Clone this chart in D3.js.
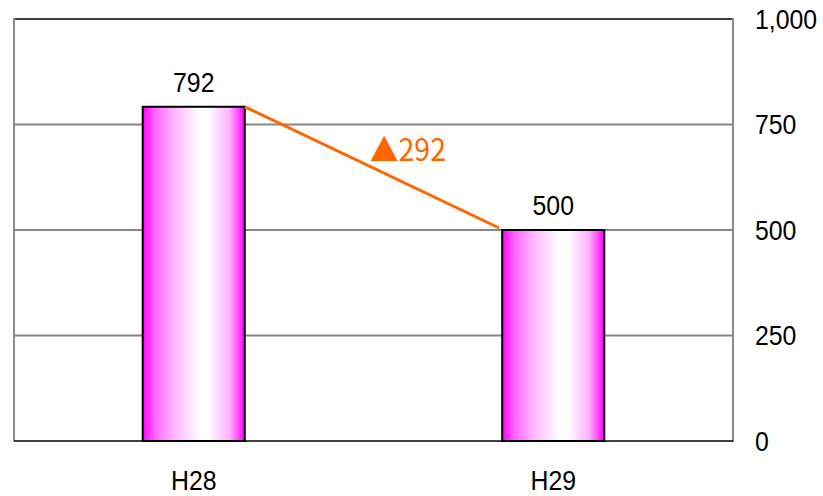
<!DOCTYPE html>
<html><head><meta charset="utf-8">
<script src="https://cdn.jsdelivr.net/npm/d3@7"></script>
<style>body{margin:0;background:#fff}svg{display:block}</style>
</head><body>
<svg id="c" width="823" height="496"></svg>
<script>
const categories = ["H28", "H29"];
const values = [792, 500];
const yTicks = [0, 250, 500, 750, 1000];
const diffLabel = "▲292";

const W = 823, H = 496;
const m = {left: 14, right: 90, top: 19, bottom: 55};
const svg = d3.select("#c");
const x = d3.scaleBand().domain(categories).range([m.left, W - m.right]).paddingInner(0.716).paddingOuter(0.358);
const y = d3.scaleLinear().domain([0, 1000]).range([H - m.bottom, m.top]);
const font = "'Liberation Sans', Arial, sans-serif";
const fontJ = "'Noto Sans CJK JP', 'Noto Sans', sans-serif";

const defs = svg.append("defs");
const g = defs.append("linearGradient").attr("id", "bg").attr("x1", "0").attr("x2", "1").attr("y1", "0").attr("y2", "0");
[[0, "#ff00ff"], [0.12, "#ff66ff"], [0.32, "#ffbbff"], [0.56, "#ffffff"], [0.64, "#ffffff"], [0.85, "#ffb0ff"], [1, "#ff00ff"]]
  .forEach(([o, c]) => g.append("stop").attr("offset", o).attr("stop-color", c));

function sx(cx, s) { return `translate(${cx * (1 - s)},0) scale(${s},1)`; }
const S = 0.92;

// grid
svg.append("g").selectAll("line").data(yTicks.filter(d => d > 0)).join("line")
  .attr("x1", m.left).attr("x2", W - m.right)
  .attr("y1", d => y(d)).attr("y2", d => y(d))
  .attr("stroke", d => d === 1000 ? "#404040" : "#868686").attr("stroke-width", 2);
svg.append("line").attr("x1", m.left).attr("x2", m.left).attr("y1", y(1000) - 1).attr("y2", y(0))
  .attr("stroke", "#8c8c8c").attr("stroke-width", 2);
svg.append("line").attr("x1", W - m.right).attr("x2", W - m.right).attr("y1", y(1000) - 1).attr("y2", y(0) + 1)
  .attr("stroke", "#8c8c8c").attr("stroke-width", 2);
svg.append("line").attr("x1", m.left).attr("x2", W - m.right).attr("y1", y(0)).attr("y2", y(0))
  .attr("stroke", "#000").attr("stroke-width", 1.5);

// tick labels
const tx = W - m.right + 22;
svg.append("g").selectAll("text").data(yTicks).join("text")
  .attr("x", tx).attr("y", d => y(d) + 10)
  .attr("font-family", font).attr("font-size", 27).attr("fill", "#000")
  .attr("transform", sx(tx, S))
  .text(d => d3.format(",")(d));

// bars
svg.append("g").selectAll("rect").data(values).join("rect")
  .attr("x", (d, i) => x(categories[i])).attr("width", x.bandwidth())
  .attr("y", d => y(d)).attr("height", d => y(0) - y(d))
  .attr("fill", "url(#bg)").attr("stroke", "#000").attr("stroke-width", 2);

// value labels
svg.append("g").selectAll("text").data(values).join("text")
  .attr("x", (d, i) => x(categories[i]) + x.bandwidth() / 2).attr("y", d => y(d) - 15)
  .attr("text-anchor", "middle").attr("font-family", font).attr("font-size", 27)
  .attr("transform", (d, i) => sx(x(categories[i]) + x.bandwidth() / 2, S))
  .text(d => d);

// category labels
svg.append("g").selectAll("text").data(categories).join("text")
  .attr("x", d => x(d) + x.bandwidth() / 2).attr("y", H - 6)
  .attr("text-anchor", "middle").attr("font-family", font).attr("font-size", 27)
  .attr("transform", d => sx(x(d) + x.bandwidth() / 2, S))
  .text(d => d);

// change line
const x0 = x(categories[0]) + x.bandwidth(), y0 = y(values[0]);
const x1 = x(categories[1]) - 3, y1 = y(values[1]) - 2;
svg.append("line").attr("x1", x0).attr("y1", y0).attr("x2", x1).attr("y2", y1)
  .attr("stroke", "#ff6600").attr("stroke-width", 3);
svg.append("text").attr("x", 408).attr("y", 161).attr("text-anchor", "middle")
  .attr("font-family", fontJ).attr("font-size", 31).attr("fill", "#ff6600")
  .attr("transform", sx(408, S))
  .text(diffLabel);
</script>
</body></html>
